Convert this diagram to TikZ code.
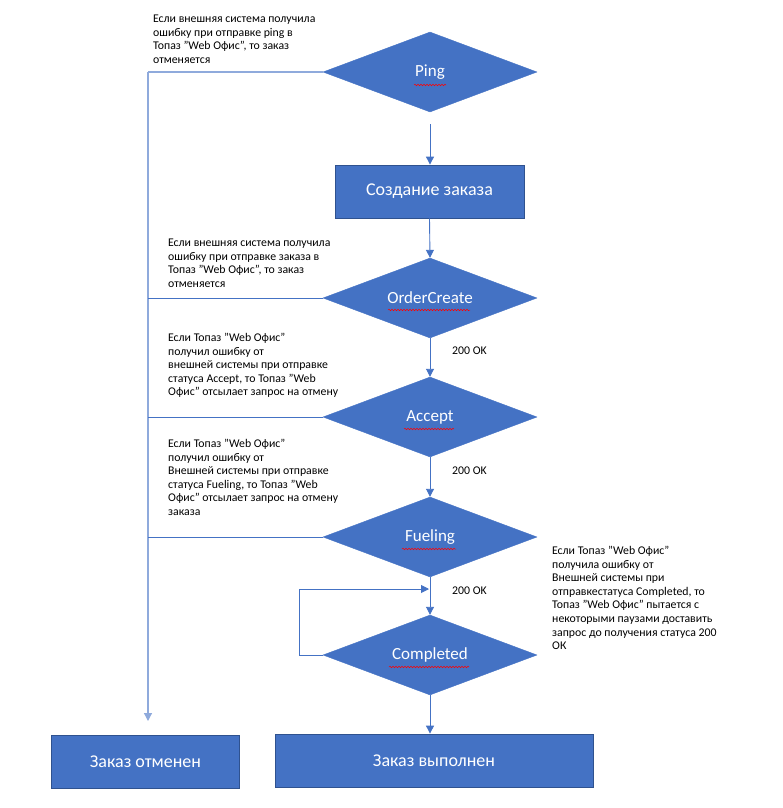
\documentclass[tikz,border=0pt]{standalone}
\usepackage{fontspec}
\setmainfont{Carlito}
\usetikzlibrary{shapes.geometric,arrows.meta,decorations.pathmorphing}
\definecolor{fillblue}{HTML}{4472C4}
\definecolor{edgeblue}{HTML}{2F528F}
\definecolor{lineblue}{HTML}{4472C4}
\definecolor{paleblue}{HTML}{8FAADC}
\newcommand{\dq}{\symbol{34}}
\begin{document}
\begin{tikzpicture}[x=1pt,y=-1pt,
  dia/.style={diamond,aspect=2.675,minimum width=214pt,minimum height=80pt,inner sep=0pt,
    fill=fillblue,draw=fillblue,text=white,font=\fontsize{17}{20}\selectfont},
  boxnode/.style={rectangle,fill=fillblue,draw=edgeblue,line width=0.8pt,text=white,
    font=\fontsize{18}{21}\selectfont,inner sep=0pt},
  note/.style={anchor=north west,align=left,inner sep=0pt,font=\fontsize{11.8}{13.6}\selectfont},
  okl/.style={anchor=west,inner sep=0pt,font=\fontsize{11.8}{13}\selectfont},
  conn/.style={draw=lineblue,line width=0.9pt},
  pconn/.style={draw=paleblue,line width=1.2pt},
  arr/.style={-{Triangle[length=8pt,width=8pt]}},
  squig/.style={draw=red,line width=0.5pt,decorate,decoration={snake,amplitude=0.8pt,segment length=3pt}}
]
\useasboundingbox (0,0) rectangle (783,808);

\node[dia] (ping) at (430,72) {Ping};
\node[boxnode,minimum width=189pt,minimum height=53pt] (create) at (429.5,191.5) {Создание заказа};
\node[dia] (oc) at (430,298) {OrderCreate};
\node[dia] (acc) at (430,417) {Accept};
\node[dia] (fuel) at (430,537) {Fueling};
\node[dia] (comp) at (430,655) {Completed};
\node[boxnode,minimum width=188pt,minimum height=53pt] (cancel) at (145.5,761.5) {Заказ отменен};
\node[boxnode,minimum width=318pt,minimum height=53pt] (done) at (434,760.5) {Заказ выполнен};

% spell-check squiggles
\draw[squig] (414,85) -- (446,85);
\draw[squig] (388,310) -- (470,310);
\draw[squig] (404,429) -- (454,429);
\draw[squig] (402,549) -- (456,549);
\draw[squig] (389,667) -- (469,667);

% main flow
\coordinate (pstart) at (430,124);
\path[conn,arr] (pstart) -- (pstart |- create.north);
\path[conn,arr] (create.south) -- (oc.north);
\path[conn,arr] (oc.south) -- (acc.north);
\path[conn,arr] (acc.south) -- (fuel.north);
\path[conn,arr] (fuel.south) -- (comp.north);
\path[conn,arr] (comp.south) -- (comp.south |- done.north);

% cancel line
\coordinate (lt) at (148,72);
\coordinate (lb) at (148,721);
\path[pconn] (ping.west) -- (lt);
\path[pconn,arr] (lt) -- (lb);
\path[conn] (oc.west) -- (148,298);
\path[conn] (acc.west) -- (148,417);
\path[conn] (fuel.west) -- (148,537);

% retry loop
\coordinate (lp1) at (299,655);
\coordinate (lp2) at (299,589);
\coordinate (lp3) at (429,589);
\path[conn,arr] (comp.west) -- (lp1) -- (lp2) -- (lp3);

% labels
\node[okl] (ok1) at (452,351) {200 OK};
\node[okl] (ok2) at (452,471) {200 OK};
\node[okl] (ok3) at (452,591) {200 OK};

\begin{scope}
\clip (140,10) rectangle (319,70);
\node[note] (n1) at (153,15) {Если внешняя система получила\\ошибку при отправке ping в\\Топаз \dq Web Офис\dq, то заказ\\отменяется};
\end{scope}
\node[note] (n2) at (168,239) {Если внешняя система получила\\ошибку при отправке заказа в\\Топаз \dq Web Офис\dq, то заказ\\отменяется};
\node[note] (n3) at (168,333) {Если Топаз \dq Web Офис\dq\\получил ошибку от\\внешней системы при отправке\\статуса Accept, то Топаз \dq Web\\Офис\dq{} отсылает запрос на отмену};
\node[note] (n4) at (168,439) {Если Топаз \dq Web Офис\dq\\получил ошибку от\\Внешней системы при отправке\\статуса Fueling, то Топаз \dq Web\\Офис\dq{} отсылает запрос на отмену\\заказа};
\node[note] (n5) at (552,546) {Если Топаз \dq Web Офис\dq\\получила ошибку от\\Внешней системы при\\отправкестатуса Completed, то\\Топаз \dq Web Офис\dq{} пытается с\\некоторыми паузами доставить\\запрос до получения статуса 200\\ОК};
\end{tikzpicture}
\end{document}
